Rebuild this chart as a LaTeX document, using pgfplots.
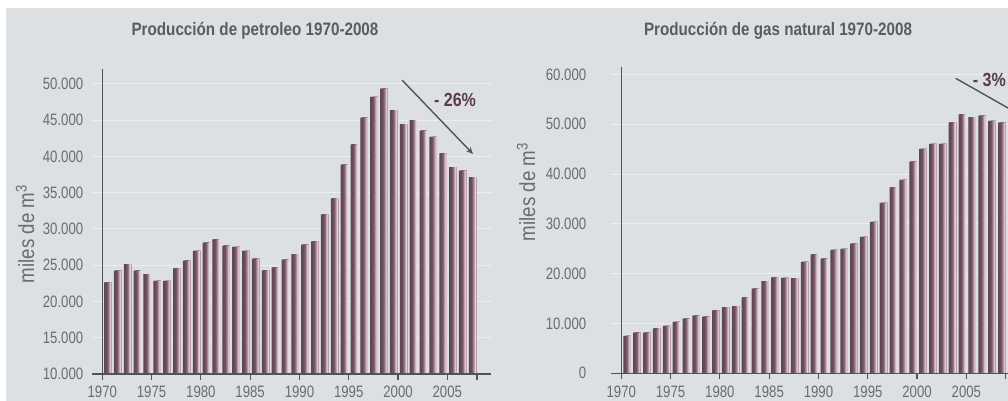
\documentclass[border=0pt]{standalone}
\usepackage{fontspec}
\setmainfont{Liberation Sans}
\newfontfamily\condfont{Liberation Sans}[FakeStretch=0.8]
\newfontfamily\labfont{Liberation Sans}[FakeStretch=0.85]
\newfontfamily\titfont{Liberation Sans}[FakeStretch=0.845]
\usepackage{pgfplots}
\pgfplotsset{compat=1.18}
\usepackage{pgfplotstable}
\usetikzlibrary{arrows.meta}

\definecolor{bgc}{RGB}{221,224,226}
\definecolor{gridc}{RGB}{236,238,239}
\definecolor{axisc}{RGB}{80,83,88}
\definecolor{labc}{RGB}{105,108,112}
\definecolor{titlec}{RGB}{90,93,96}
\definecolor{pctc}{RGB}{92,59,75}
\definecolor{s0}{RGB}{98,70,84}
\definecolor{s1}{RGB}{100,72,86}
\definecolor{s2}{RGB}{104,76,90}
\definecolor{s3}{RGB}{112,84,98}
\definecolor{s4}{RGB}{132,102,116}
\definecolor{s5}{RGB}{165,135,148}
\definecolor{s6}{RGB}{205,178,188}
\definecolor{s7}{RGB}{232,210,218}

\pgfplotstableread{
year value
1970 22650
1971 24250
1972 25170
1973 24250
1974 23790
1975 22830
1976 22830
1977 24580
1978 25630
1979 26970
1980 28110
1981 28580
1982 27700
1983 27520
1984 26970
1985 25900
1986 24300
1987 24720
1988 25770
1989 26550
1990 27830
1991 28300
1992 32030
1993 34230
1994 38870
1995 41680
1996 45350
1997 48210
1998 49350
1999 46410
2000 44480
2001 45030
2002 43560
2003 42690
2004 40440
2005 38550
2006 38040
2007 37170
}\oiltable

\pgfplotstableread{
year value
1970 7490
1971 8150
1972 8150
1973 9030
1974 9500
1975 10300
1976 10970
1977 11570
1978 11370
1979 12650
1980 13310
1981 13510
1982 15260
1983 16990
1984 18530
1985 19270
1986 19140
1987 19100
1988 22350
1989 23890
1990 23020
1991 24760
1992 24960
1993 26020
1994 27370
1995 30380
1996 34200
1997 37350
1998 38820
1999 42490
2000 45040
2001 46040
2002 46040
2003 50400
2004 52010
2005 51410
2006 51730
2007 50660
2008 50320
}\gastable

\pgfplotsset{
  mystyle/.style={
    scale only axis, anchor=south west,
    axis line style={draw=none},
    xtick pos=left, ytick pos=left,
    tick align=outside,
    major tick length=6pt,
    xtick style={draw=axisc, line width=1.2pt},
    ytick style={draw=none},
    ymajorgrids, major grid style={draw=gridc, line width=1pt},
    tick label style={font=\condfont\fontsize{16.5}{16.5}\selectfont, text=labc},
    yticklabel style={inner sep=0pt, anchor=east},
    xticklabel style={inner sep=0pt, anchor=north, yshift=-6pt},
    scaled y ticks=false, scaled x ticks=false,
    clip mode=individual,
  },
}

% stacked strips emulate the per-bar shading (dark left, light right edge)
\newcommand{\shadedbars}[2]{%
  \addplot[ybar, draw=none, fill=s0, bar width=0.74]   table[x expr=\thisrow{year}+#2,         y=value] {#1};
  \addplot[ybar, draw=none, fill=s1, bar width=0.6475] table[x expr=\thisrow{year}+#2+0.04625, y=value] {#1};
  \addplot[ybar, draw=none, fill=s2, bar width=0.555]  table[x expr=\thisrow{year}+#2+0.0925,  y=value] {#1};
  \addplot[ybar, draw=none, fill=s3, bar width=0.4625] table[x expr=\thisrow{year}+#2+0.13875, y=value] {#1};
  \addplot[ybar, draw=none, fill=s4, bar width=0.37]   table[x expr=\thisrow{year}+#2+0.185,   y=value] {#1};
  \addplot[ybar, draw=none, fill=s5, bar width=0.2775] table[x expr=\thisrow{year}+#2+0.23125, y=value] {#1};
  \addplot[ybar, draw=none, fill=s6, bar width=0.185]  table[x expr=\thisrow{year}+#2+0.2775,  y=value] {#1};
  \addplot[ybar, draw=none, fill=s7, bar width=0.0925] table[x expr=\thisrow{year}+#2+0.32375, y=value] {#1};
}

\begin{document}
\begin{tikzpicture}[x=1pt,y=1pt]
\useasboundingbox (0,0) rectangle (1008,401);
\clip (0,0) rectangle (1008,401);
\fill[bgc] (6,0) rectangle (1008,393);

% titles
\node[font=\titfont\bfseries\fontsize{18}{18}\selectfont, text=titlec] at (255,370) {Producción de petroleo 1970-2008};
\node[font=\titfont\bfseries\fontsize{18}{18}\selectfont, text=titlec] at (778,370) {Producción de gas natural 1970-2008};

% y labels
\node[rotate=90, font=\labfont\fontsize{22}{22}\selectfont, text=labc] at (25,167) {miles de m\textsuperscript{3}};
\node[rotate=90, font=\labfont\fontsize{22}{22}\selectfont, text=labc] at (526,209) {miles de m\textsuperscript{3}};

\begin{axis}[mystyle,
  at={(92.4pt,27pt)}, width=399.3pt, height=304.5pt,
  xmin=1969, xmax=2009.5, ymin=10000, ymax=52000,
  xtick={1970,1975,1980,1985,1990,1995,2000,2005,2008},
  xticklabels={1970,1975,1980,1985,1990,1995,2000,2005,{}},
  ytick={10000,15000,20000,25000,30000,35000,40000,45000,50000},
  yticklabels={10.000,15.000,20.000,25.000,30.000,35.000,40.000,45.000,50.000},
  yticklabel style={xshift=-3pt},
]
\shadedbars{\oiltable}{0.55}
\draw[axisc, line width=1.5pt] (axis cs:1969,10000) -- (axis cs:2009.4,10000);
\draw[axisc, line width=1.5pt] (axis cs:1970,10000) -- (axis cs:1970,52000);
\end{axis}

\begin{axis}[mystyle,
  at={(611.4pt,27.7pt)}, width=409.2pt, height=306.3pt,
  xmin=1969, xmax=2010.5, ymin=0, ymax=61500,
  xtick={1970,1975,1980,1985,1990,1995,2000,2005,2009},
  xticklabels={1970,1975,1980,1985,1990,1995,2000,2005,{}},
  ytick={0,10000,20000,30000,40000,50000,60000},
  yticklabels={0,10.000,20.000,30.000,40.000,50.000,60.000},
  yticklabel style={xshift=-19pt},
]
\shadedbars{\gastable}{0.58}
\draw[axisc, line width=1.5pt] (axis cs:1969,0) -- (axis cs:2010.5,0);
\draw[axisc, line width=1.5pt] (axis cs:1970,0) -- (axis cs:1970,61500);
\end{axis}

% arrows and percentages
\draw[axisc, line width=1.4pt, -{Stealth[length=7pt,width=6pt]}] (402,321) -- (473,247);
\node[font=\titfont\bfseries\fontsize{19}{19}\selectfont, text=pctc] at (455,301) {- 26\%};
\draw[axisc, line width=1.4pt, -{Stealth[length=7pt,width=6pt]}] (955.7,322.7) -- (1030,280.5);
\node[anchor=east, inner sep=0pt, font=\titfont\bfseries\fontsize{19}{19}\selectfont, text=pctc] at (1006,321) {- 3\%};
\end{tikzpicture}
\end{document}
